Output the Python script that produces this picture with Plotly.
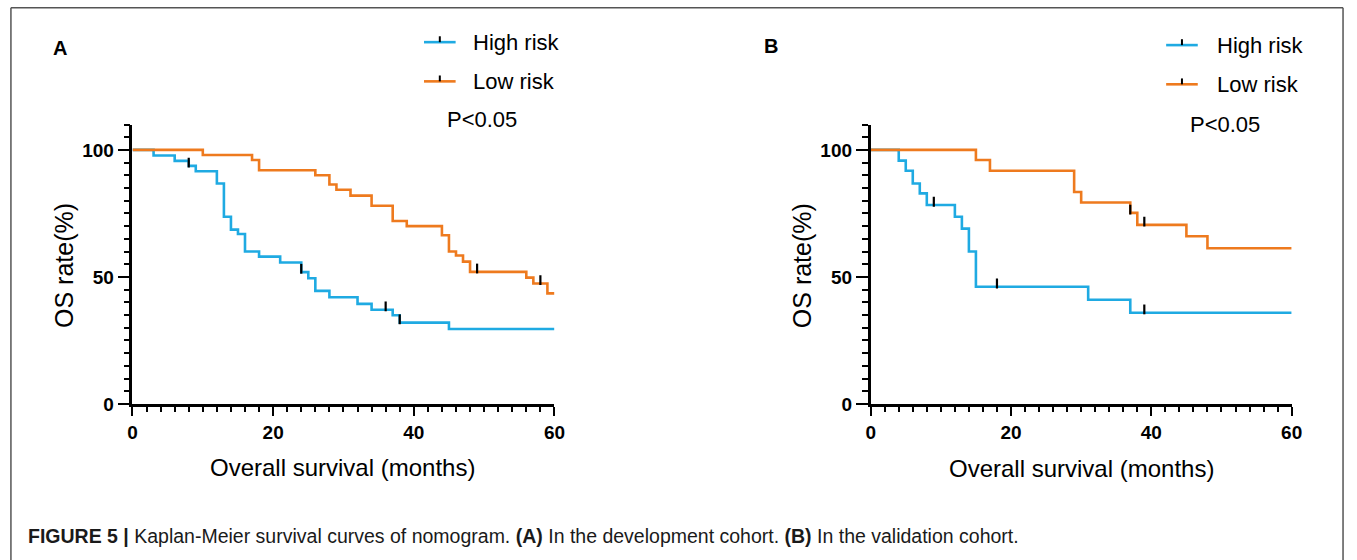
import plotly.graph_objects as go

W, H = 1357, 560

# ---------------- data ----------------
months_ticks = [0, 20, 40, 60]
rate_ticks = [0, 50, 100]

A_high_t = [0, 3, 6, 8, 9, 12, 13, 14, 15, 16, 18, 21, 24, 25, 26, 28, 32, 34, 37, 38, 45]
A_high_s = [100, 97.8, 95.7, 93.7, 91.6, 86.8, 73.7, 68.6, 66.9, 60, 58, 55.7, 51.9, 49.5, 44.5, 42, 39.4, 37.1, 34.9, 32, 29.5]
A_high_cens = [8, 24, 36, 38]

A_low_t = [0, 10, 17, 18, 26, 28, 29, 31, 34, 37, 39, 44, 45, 46, 47, 48, 56, 57, 59]
A_low_s = [100, 98, 96, 92, 90, 86.4, 84.3, 82, 78, 72, 70, 66.4, 60, 58.4, 56, 52, 49.7, 47.4, 43.5]
A_low_cens = [49, 58]

B_high_t = [0, 4, 5, 6, 7, 8, 12, 13, 14, 15, 31, 37]
B_high_s = [100, 95.8, 91.8, 86.8, 82.9, 78.3, 73.7, 69, 60, 46.1, 41, 35.9]
B_high_cens = [9, 18, 39]

B_low_t = [0, 15, 17, 29, 30, 37, 38, 45, 48]
B_low_s = [100, 96, 91.8, 83.4, 79.3, 75.2, 70.5, 66, 61.3]
B_low_cens = [37, 39]

END = 60
BLUE = "#1FAAE2"
ORANGE = "#EE7A1E"
FONT = "Arial, Liberation Sans, sans-serif"


def fx(px):
    return px / W


def fy(py):
    return 1 - py / H


def surv_at(ts, ss, t):
    v = ss[0]
    for ti, si in zip(ts, ss):
        if ti <= t:
            v = si
    return v


fig = go.Figure()

panels = [
    ("x", "y", [(A_high_t, A_high_s, A_high_cens, BLUE, "High risk"),
                (A_low_t, A_low_s, A_low_cens, ORANGE, "Low risk")]),
    ("x2", "y2", [(B_high_t, B_high_s, B_high_cens, BLUE, "High risk"),
                  (B_low_t, B_low_s, B_low_cens, ORANGE, "Low risk")]),
]

for xa, ya, groups in panels:
    for ts, ss, cens, col, name in groups:
        fig.add_trace(go.Scatter(
            x=list(ts) + [END], y=list(ss) + [ss[-1]],
            mode="lines", line=dict(color=col, width=2.6, shape="hv"),
            xaxis=xa, yaxis=ya, name=name, showlegend=False, hoverinfo="skip"))
    for ts, ss, cens, col, name in groups:
        fig.add_trace(go.Scatter(
            x=cens, y=[surv_at(ts, ss, c) + 1.3 for c in cens],
            mode="markers",
            marker=dict(symbol="line-ns", size=7, line=dict(color="black", width=2.2)),
            xaxis=xa, yaxis=ya, showlegend=False, hoverinfo="skip"))

ydom = [fy(412), fy(127)]
axis_common = dict(showline=True, linecolor="black", linewidth=2.6, showgrid=False,
                   zeroline=False, ticks="outside", tickcolor="black", tickwidth=2.2,
                   tickfont=dict(family=FONT, size=19, color="black", weight="bold"))

fig.update_layout(
    width=W, height=H, autosize=False,
    margin=dict(l=0, r=0, t=0, b=0),
    paper_bgcolor="white", plot_bgcolor="white",
    showlegend=False,
    xaxis=dict(domain=[fx(129), fx(556)], range=[0, 60], tickvals=months_ticks, ticklen=9,
               minor=dict(dtick=2, tick0=0, ticklen=5, tickwidth=2, tickcolor="black", ticks="outside"),
               anchor="y", **axis_common),
    yaxis=dict(domain=ydom, range=[0, 110], tickvals=rate_ticks, ticklen=12,
               minor=dict(dtick=5, tick0=0, ticklen=6, tickwidth=2, tickcolor="black", ticks="outside"),
               anchor="x", **axis_common),
    xaxis2=dict(domain=[fx(876), fx(1302)], range=[0, 60], tickvals=months_ticks, ticklen=9,
                minor=dict(dtick=2, tick0=0, ticklen=5, tickwidth=2, tickcolor="black", ticks="outside"),
                anchor="y2", **axis_common),
    yaxis2=dict(domain=ydom, range=[0, 110], tickvals=rate_ticks, ticklen=12,
                minor=dict(dtick=5, tick0=0, ticklen=6, tickwidth=2, tickcolor="black", ticks="outside"),
                anchor="x2", **axis_common),
)

ann = []
shapes = []


def text(px, py, s, size, xanchor="left", bold=False, angle=0):
    ann.append(dict(x=fx(px), y=fy(py), xref="paper", yref="paper", text=s, showarrow=False,
                    xanchor=xanchor, yanchor="middle", textangle=angle,
                    font=dict(family=FONT, size=size, color="black",
                              weight="bold" if bold else "normal")))


def legend_sample(x0, x1, py, col):
    shapes.append(dict(type="line", xref="paper", yref="paper", x0=fx(x0), x1=fx(x1),
                       y0=fy(py), y1=fy(py), line=dict(color=col, width=2.6)))
    xm = (x0 + x1) / 2
    shapes.append(dict(type="line", xref="paper", yref="paper", x0=fx(xm), x1=fx(xm),
                       y0=fy(py), y1=fy(py - 6), line=dict(color="black", width=2)))


# Panel A decorations
text(47, 49, "A", 20, bold=True)
legend_sample(424, 456, 43, BLUE)
legend_sample(424, 456, 83, ORANGE)
text(472, 43, "High risk", 22)
text(472, 83, "Low risk", 22)
text(445, 122, "P<0.05", 22)
text(59, 271, "OS rate(%)", 25, xanchor="center", angle=-90)
text(342, 477, "Overall survival (months)", 24, xanchor="center")

# Panel B decorations
text(766, 47, "B", 20, bold=True)
legend_sample(1175, 1207, 46, BLUE)
legend_sample(1175, 1207, 86, ORANGE)
text(1224, 46, "High risk", 22)
text(1224, 86, "Low risk", 22)
text(1197, 127, "P<0.05", 22)
text(806, 271, "OS rate(%)", 25, xanchor="center", angle=-90)
text(1089, 478, "Overall survival (months)", 24, xanchor="center")

# caption
ann.append(dict(x=fx(21), y=fy(547), xref="paper", yref="paper", showarrow=False,
                xanchor="left", yanchor="middle",
                text="<b>FIGURE 5 |</b> Kaplan-Meier survival curves of nomogram. <b>(A)</b> In the development cohort. <b>(B)</b> In the validation cohort.",
                font=dict(family=FONT, size=19.5, color="#1a1a1a")))

# outer frame (open at bottom)
frame = dict(color="#555555", width=1.5)
shapes.append(dict(type="line", xref="paper", yref="paper", x0=fx(6), x1=fx(6), y0=fy(8), y1=fy(600), line=frame))
shapes.append(dict(type="line", xref="paper", yref="paper", x0=fx(6), x1=fx(1354), y0=fy(8), y1=fy(8), line=frame))
shapes.append(dict(type="line", xref="paper", yref="paper", x0=fx(1354), x1=fx(1354), y0=fy(8), y1=fy(600), line=frame))

fig.update_layout(annotations=ann, shapes=shapes)

fig.write_html("out.html")
